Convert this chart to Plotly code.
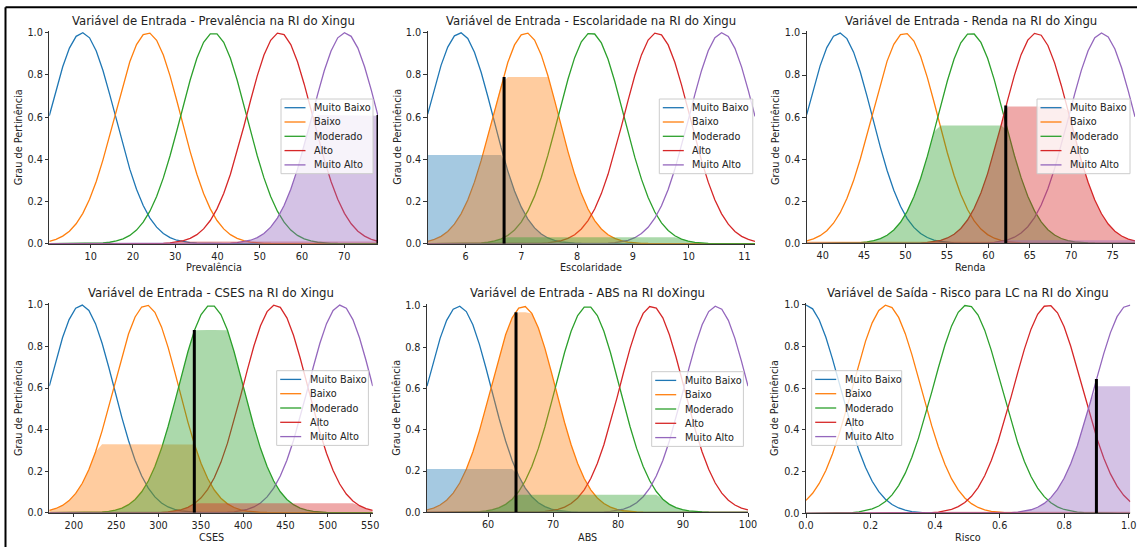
import numpy as np
import plotly.graph_objects as go

W, H = 1137, 547

# ---------------- data ----------------
terms = ["Muito Baixo", "Baixo", "Moderado", "Alto", "Muito Alto"]
term_colors = ["#1f77b4", "#ff7f0e", "#2ca02c", "#d62728", "#9467bd"]
fill_colors = ["rgba(31,119,180,0.4)", "rgba(255,127,14,0.4)", "rgba(44,160,44,0.4)",
               "rgba(214,39,40,0.4)", "rgba(148,103,189,0.4)"]

titles = [
    "Variável de Entrada - Prevalência na RI do Xingu",
    "Variável de Entrada - Escolaridade na RI do Xingu",
    "Variável de Entrada - Renda na RI do Xingu",
    "Variável de Entrada - CSES na RI do Xingu",
    "Variável de Entrada - ABS na RI doXingu",
    "Variável de Saída - Risco para LC na RI do Xingu",
]
xlabels = ["Prevalência", "Escolaridade", "Renda", "CSES", "ABS", "Risco"]
ylabel = "Grau de Pertinência"

# universe limits
u_min = [0.2, 5.32, 38.07, 171.0, 50.6, 0.0]
u_max = [78.0, 11.19, 77.7, 553.0, 100.0, 1.005]

# gaussian membership parameters (centers / sigma) per variable
centers_prev = [8.0, 23.5, 39.1, 54.7, 70.2]
centers_esc = [5.9, 7.08, 8.25, 9.43, 10.6]
centers_renda = [42.0, 49.9, 57.9, 65.8, 73.7]
centers_cses = [209.0, 285.5, 362.0, 438.0, 515.0]
centers_abs = [55.5, 65.4, 75.3, 85.2, 95.1]
centers_risco = [0.0, 0.25, 0.5, 0.75, 1.0]
centers = [centers_prev, centers_esc, centers_renda, centers_cses, centers_abs, centers_risco]
sigmas = [7.8, 0.587, 3.965, 38.2, 4.94, 0.106]

# crisp value (black bar) and its height
crisp_x = [78.0, 6.69, 62.1, 342.3, 64.3, 0.9]
crisp_h = [0.61, 0.79, 0.655, 0.88, 0.97, 0.645]

# activation (fill) level per term
act_prev = [0.0, 0.0, 0.001, 0.011, 0.61]
act_esc = [0.42, 0.79, 0.03, 0.0, 0.0]
act_renda = [0.0, 0.008, 0.56, 0.65, 0.014]
act_cses = [0.005, 0.33, 0.88, 0.045, 0.0]
act_abs = [0.21, 0.97, 0.085, 0.003, 0.0]
act_risco = [0.0, 0.0, 0.0, 0.008, 0.61]
activations = [act_prev, act_esc, act_renda, act_cses, act_abs, act_risco]

# tick values
xticks = [
    [10, 20, 30, 40, 50, 60, 70],
    [6, 7, 8, 9, 10, 11],
    [40, 45, 50, 55, 60, 65, 70, 75],
    [200, 250, 300, 350, 400, 450, 500, 550],
    [60, 70, 80, 90, 100],
    [0.0, 0.2, 0.4, 0.6, 0.8, 1.0],
]
xtick_text = [
    [str(v) for v in xticks[0]],
    [str(v) for v in xticks[1]],
    [str(v) for v in xticks[2]],
    [str(v) for v in xticks[3]],
    [str(v) for v in xticks[4]],
    ["%.1f" % v for v in xticks[5]],
]
yticks = [0.0, 0.2, 0.4, 0.6, 0.8, 1.0]

# ---------------- layout geometry (pixels) ----------------
axes_px = [  # x0, x1, ytop, ybottom
    (49.3, 378.0, 30.6, 243.7),
    (427.7, 755.0, 30.6, 243.7),
    (806.7, 1135.0, 30.9, 243.3),
    (49.3, 372.7, 302.9, 512.7),
    (427.0, 748.0, 304.0, 512.3),
    (806.0, 1130.3, 302.9, 513.3),
]
legend_px = [  # left, top, width
    (281.0, 99.0, 92.0),
    (659.3, 99.0, 93.5),
    (1037.0, 99.0, 93.0),
    (276.7, 370.7, 91.7),
    (651.7, 371.7, 91.7),
    (811.7, 370.7, 90.0),
]
xlabel_y = [267.7, 267.7, 267.7, 537.3, 537.3, 537.3]
ylabel_x = [18.0, 396.7, 775.0, 18.3, 395.7, 774.0]
title_y = [20.7, 20.7, 20.7, 293.3, 293.3, 293.3]

FONT = "DejaVu Sans"
TXT = "#222222"

def px_x(x):
    return x / W

def px_y(y):
    return 1 - y / H

fig = go.Figure()
layout = dict(
    template="none",
    width=W, height=H, autosize=False,
    margin=dict(l=0, r=0, t=0, b=0, pad=0, autoexpand=False),
    paper_bgcolor="white", plot_bgcolor="white",
    showlegend=False,
    font=dict(family=FONT, size=9.7, color=TXT),
)
annotations = []
shapes = []

for i in range(6):
    sfx = "" if i == 0 else str(i + 1)
    xa, ya = "x" + sfx, "y" + sfx
    x0, x1, yt, yb = axes_px[i]
    uni = np.linspace(u_min[i], u_max[i], 50)
    mfs = [np.exp(-((uni - c) ** 2) / (2 * sigmas[i] ** 2)) for c in centers[i]]

    for k in range(5):
        fig.add_trace(go.Scatter(x=uni, y=mfs[k], mode="lines", name=terms[k],
                                 line=dict(color=term_colors[k], width=1.3),
                                 xaxis=xa, yaxis=ya, hoverinfo="skip"))
    for k in range(5):
        fv = np.fmin(mfs[k], activations[i][k])
        fig.add_trace(go.Scatter(x=uni, y=fv, mode="lines", fill="tozeroy",
                                 fillcolor=fill_colors[k], line=dict(width=0, color=fill_colors[k]),
                                 xaxis=xa, yaxis=ya, hoverinfo="skip", showlegend=False))
    fig.add_trace(go.Scatter(x=[crisp_x[i], crisp_x[i]], y=[0, crisp_h[i]], mode="lines",
                             line=dict(color="black", width=3), xaxis=xa, yaxis=ya,
                             hoverinfo="skip", showlegend=False))

    layout["xaxis" + sfx] = dict(
        domain=[px_x(x0), px_x(x1)], anchor=ya, range=[u_min[i], u_max[i]], automargin=False,
        tickvals=xticks[i], ticktext=xtick_text[i], ticks="outside", ticklen=3.5,
        tickcolor="#333", tickwidth=1, showline=True, linecolor="#333", linewidth=1,
        showgrid=False, zeroline=False, tickfont=dict(family=FONT, size=9.7, color=TXT),
    )
    layout["yaxis" + sfx] = dict(
        domain=[px_y(yb), px_y(yt)], anchor=xa, range=[0, 1.01], automargin=False,
        tickvals=yticks, ticktext=["%.1f" % v for v in yticks], ticks="outside", ticklen=3.5,
        tickcolor="#333", tickwidth=1, showline=True, linecolor="#333", linewidth=1,
        showgrid=False, zeroline=False, tickfont=dict(family=FONT, size=9.7, color=TXT),
    )

    # title
    annotations.append(dict(text=titles[i], x=px_x((x0 + x1) / 2), y=px_y(title_y[i]),
                            xref="paper", yref="paper", xanchor="center", yanchor="middle",
                            showarrow=False, font=dict(family=FONT, size=11.7, color=TXT)))
    # x label
    annotations.append(dict(text=xlabels[i], x=px_x((x0 + x1) / 2), y=px_y(xlabel_y[i]),
                            xref="paper", yref="paper", xanchor="center", yanchor="middle",
                            showarrow=False, font=dict(family=FONT, size=9.7, color=TXT)))
    # y label
    annotations.append(dict(text=ylabel, x=px_x(ylabel_x[i]), y=px_y((yt + yb) / 2),
                            xref="paper", yref="paper", xanchor="center", yanchor="middle",
                            textangle=-90, showarrow=False,
                            font=dict(family=FONT, size=9.7, color=TXT)))

    # legend box
    lx, ly, lw = legend_px[i]
    lh = 74.7
    shapes.append(dict(type="rect", xref="paper", yref="paper",
                       x0=px_x(lx), x1=px_x(lx + lw), y0=px_y(ly + lh), y1=px_y(ly),
                       fillcolor="rgba(255,255,255,0.8)", line=dict(color="#cccccc", width=1)))
    for k in range(5):
        yc = ly + 8.7 + 14.3 * k
        shapes.append(dict(type="line", xref="paper", yref="paper",
                           x0=px_x(lx + 3.5), x1=px_x(lx + 24.5), y0=px_y(yc), y1=px_y(yc),
                           line=dict(color=term_colors[k], width=1.3)))
        annotations.append(dict(text=terms[k], x=px_x(lx + 31.0), y=px_y(yc),
                                xref="paper", yref="paper", xanchor="left", yanchor="middle",
                                showarrow=False, font=dict(family=FONT, size=9.7, color=TXT)))

# outer frame (top and left borders)
shapes.append(dict(type="line", xref="paper", yref="paper", x0=px_x(5.5), x1=1.0,
                   y0=px_y(7.3), y1=px_y(7.3), line=dict(color="black", width=2)))
shapes.append(dict(type="line", xref="paper", yref="paper", x0=px_x(5.5), x1=px_x(5.5),
                   y0=0.0, y1=px_y(7.3), line=dict(color="black", width=2)))

layout["annotations"] = annotations
layout["shapes"] = shapes
fig.update_layout(**layout)
fig.write_html("out.html", config={"displayModeBar": False},
               post_script="document.body.style.margin='0px';document.body.style.overflow='hidden';")
